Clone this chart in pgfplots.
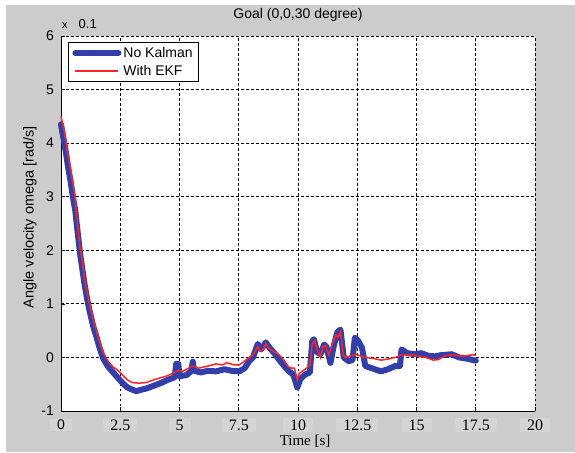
\documentclass[border=0pt]{standalone}
\usepackage{fontspec}
\setmainfont{Liberation Sans}
\newfontfamily\serifnum{Liberation Serif}
\usepackage{pgfplots}
\pgfplotsset{compat=1.18}
\definecolor{bgray}{RGB}{204,204,204}
\definecolor{lgray}{RGB}{212,212,212}
\definecolor{mblue}{RGB}{50,62,170}
\definecolor{mred}{RGB}{255,35,35}
\begin{document}
\begin{tikzpicture}
\fill[white] (-61pt,-41pt) rectangle (514pt,411pt);
\fill[bgray] (-55pt,-41pt) rectangle (514pt,406pt);
\begin{axis}[
  scale only axis, width=474pt, height=375pt,
  xmin=0, xmax=20, ymin=-1, ymax=6,
  axis x line*=bottom, axis y line*=left,
  axis line style={black, line width=0.8pt},
  axis background/.style={fill=white},
  grid=major,
  major grid style={black, line width=0.8pt, dash pattern=on 2.5pt off 2.5pt},
  xtick={0,2.5,5,7.5,10,12.5,15,17.5,20},
  xticklabels={{\fontsize{14}{16}\selectfont\rmfamily 0},2.5,5,7.5,10,12.5,15,17.5,20},
  ytick={-1,0,1,2,3,4,5,6},
  yticklabels={-1,0,1,2,3,4,5,6},
  tick align=inside, major tick length=4pt, tick style={black, line width=0.6pt},
  xticklabel style={font=\serifnum\fontsize{16}{18}\selectfont, anchor=center, yshift=-14pt, fill=lgray, inner xsep=7pt, inner ysep=1.5pt},
  yticklabel style={font=\fontsize{14}{16}\selectfont, anchor=east, inner sep=0pt, xshift=-7pt},
  title={Goal (0,0,30 degree)},
  title style={font=\fontsize{14}{16}\selectfont, at={(axis description cs:0.5,1)}, anchor=base, yshift=12pt},
  xlabel={Time [s]},
  xlabel style={font=\serifnum\fontsize{15}{17}\selectfont, at={(axis description cs:0.515,-0.081)}, anchor=center, inner sep=0pt},
  ylabel={Angle velocity omega [rad/s]},
  ylabel style={font=\fontsize{14.5}{16}\selectfont, at={(axis description cs:-0.0654,0.517)}, anchor=center},
  legend style={at={(axis description cs:0,1)}, anchor=north west, xshift=7pt, yshift=-6pt,
    draw=black, line width=0.8pt, fill=white, font=\fontsize{14}{16}\selectfont,
    inner xsep=4pt, inner ysep=3pt, row sep=2pt, legend cell align=left},
  legend image code/.code={\draw[#1] (0pt,0pt) -- (43pt,0pt);},
  clip=false,
]
\addplot[mblue, line width=6pt, line join=round, line cap=round] table {
t v
0.0 4.35
0.1 4.10
0.2 3.85
0.3 3.55
0.4 3.30
0.5 3.00
0.6 2.75
0.7 2.35
0.8 1.95
0.9 1.65
1.0 1.35
1.1 1.10
1.2 0.88
1.36 0.58
1.5 0.38
1.6 0.22
1.78 -0.02
2.0 -0.18
2.2 -0.28
2.4 -0.38
2.6 -0.48
2.8 -0.56
3.0 -0.60
3.18 -0.63
3.4 -0.60
3.6 -0.58
3.9 -0.53
4.2 -0.48
4.5 -0.42
4.8 -0.37
4.86 -0.12
4.95 -0.12
5.0 -0.35
5.3 -0.33
5.5 -0.25
5.56 -0.08
5.62 -0.25
5.9 -0.28
6.2 -0.25
6.54 -0.26
6.9 -0.22
7.2 -0.25
7.52 -0.26
7.75 -0.20
7.94 -0.07
8.1 0.00
8.3 0.25
8.45 0.15
8.64 0.28
8.8 0.18
9.0 0.08
9.2 -0.04
9.4 -0.15
9.62 -0.26
9.8 -0.32
9.97 -0.56
10.1 -0.40
10.3 -0.32
10.5 -0.28
10.6 0.30
10.67 0.34
10.8 0.10
10.95 0.06
11.1 0.24
11.2 0.20
11.37 -0.10
11.5 0.20
11.65 0.46
11.79 0.52
11.93 0.00
12.14 -0.07
12.3 -0.05
12.4 0.37
12.55 0.30
12.7 0.18
12.84 -0.16
13.1 -0.20
13.5 -0.26
13.8 -0.22
14.1 -0.16
14.3 -0.16
14.37 0.15
14.6 0.08
14.94 0.06
15.2 0.08
15.5 0.03
15.78 0.02
16.0 0.04
16.48 0.06
16.8 0.00
17.1 -0.02
17.4 -0.05
17.5 -0.06
};
\addlegendentry{No Kalman}
\addplot[mred, line width=1.5pt] table {
t v
0.0 4.50
0.1 4.30
0.2 4.05
0.3 3.75
0.38 3.57
0.5 3.25
0.6 2.95
0.7 2.50
0.8 2.05
0.9 1.80
1.0 1.45
1.1 1.22
1.2 1.00
1.36 0.71
1.5 0.48
1.6 0.33
1.78 0.09
2.0 -0.08
2.2 -0.18
2.34 -0.22
2.6 -0.33
2.8 -0.42
3.0 -0.47
3.3 -0.48
3.6 -0.47
3.9 -0.42
4.2 -0.38
4.5 -0.34
4.8 -0.28
4.95 -0.24
5.13 -0.26
5.3 -0.22
5.55 -0.16
5.8 -0.20
6.0 -0.18
6.3 -0.15
6.54 -0.12
6.8 -0.14
7.0 -0.10
7.3 -0.14
7.52 -0.14
7.8 -0.05
7.94 0.00
8.1 0.05
8.3 0.20
8.4 0.12
8.55 0.15
8.64 0.26
8.75 0.18
9.0 0.10
9.2 0.05
9.4 -0.05
9.6 -0.18
9.75 -0.20
9.85 -0.20
9.97 -0.42
10.05 -0.30
10.3 -0.22
10.5 -0.15
10.6 0.25
10.7 0.32
10.8 0.15
10.95 0.00
11.05 0.20
11.16 0.22
11.3 0.05
11.45 0.25
11.6 0.42
11.7 0.38
11.79 0.48
11.9 0.05
12.0 0.00
12.3 0.04
12.5 0.05
12.8 0.00
13.2 -0.02
13.5 -0.05
13.8 -0.03
14.1 0.00
14.4 0.05
14.8 0.05
15.08 0.02
15.4 0.00
15.7 -0.05
15.92 -0.04
16.2 0.03
16.5 0.05
16.8 0.03
17.0 0.02
17.2 0.04
17.4 0.05
17.5 0.04
};
\addlegendentry{With EKF}
\node[anchor=base west, inner sep=0pt, font=\fontsize{13}{15}\selectfont] at (axis description cs:0,1) [xshift=1pt, yshift=8pt] {{\fontsize{11}{13}\selectfont x}\hspace{11pt}0.1};
\end{axis}
\pgfresetboundingbox
\path (-61pt,-41pt) rectangle (514pt,411pt);
\end{tikzpicture}
\end{document}
